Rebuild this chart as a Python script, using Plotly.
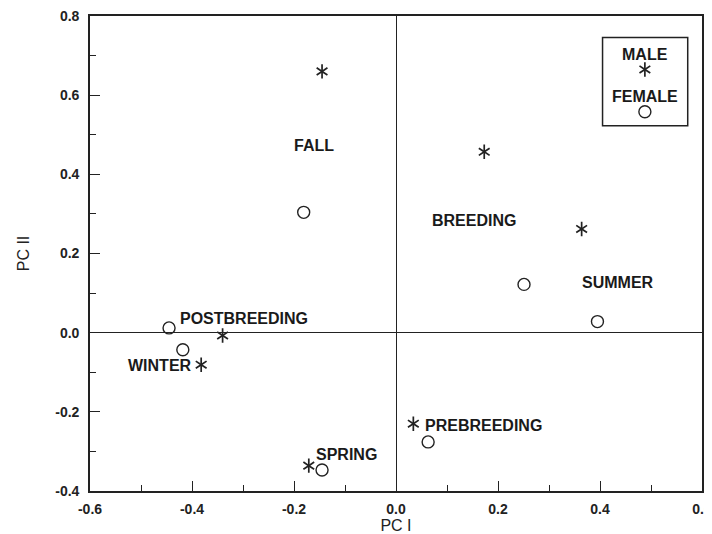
import plotly.graph_objects as go

# Male (asterisk) PC scores by season
male_season = ["FALL", "BREEDING", "SUMMER", "POSTBREEDING", "WINTER", "SPRING", "PREBREEDING"]
male_pc1 = [-0.145, 0.173, 0.364, -0.340, -0.382, -0.171, 0.034]
male_pc2 = [0.660, 0.457, 0.262, -0.007, -0.081, -0.336, -0.230]

# Female (open circle) PC scores by season
female_season = ["FALL", "BREEDING", "SUMMER", "POSTBREEDING", "WINTER", "SPRING", "PREBREEDING"]
female_pc1 = [-0.181, 0.251, 0.395, -0.445, -0.418, -0.145, 0.063]
female_pc2 = [0.304, 0.122, 0.028, 0.012, -0.043, -0.347, -0.276]

# Season labels placed in the plot
label_text = ["FALL", "BREEDING", "SUMMER", "POSTBREEDING", "WINTER", "SPRING", "PREBREEDING"]
label_x = [-0.161, 0.153, 0.436, -0.428, -0.397, -0.160, 0.053]
label_y = [0.472, 0.283, 0.126, 0.035, -0.083, -0.309, -0.235]
label_anchor = ["center", "center", "center", "left", "right", "left", "left"]

# Legend key
legend_x = [0.488]
legend_male_y = [0.665]
legend_female_y = [0.558]

x_ticks = [-0.6, -0.4, -0.2, 0.0, 0.2, 0.4, 0.6]
x_ticktext = ["-0.6", "-0.4", "-0.2", "0.0", "0.2", "0.4", "0.6"]
y_ticks = [-0.4, -0.2, 0.0, 0.2, 0.4, 0.6, 0.8]
y_ticktext = ["-0.4", "-0.2", "0.0", "0.2", "0.4", "0.6", "0.8"]

INK = "#222222"
FONT = "Liberation Sans, Arial, Helvetica, sans-serif"
LBL = dict(family=FONT, size=16, color="#1a1a1a", weight="bold")

fig = go.Figure()
# six-armed asterisk drawn as two overlaid three-armed marks
for sym in ["y-up-open", "y-down-open"]:
    fig.add_trace(go.Scatter(
        x=male_pc1 + legend_x, y=male_pc2 + legend_male_y, mode="markers", name="MALE",
        marker=dict(symbol=sym, size=9, line=dict(color=INK, width=1.7), color=INK),
        hoverinfo="x+y"))
fig.add_trace(go.Scatter(
    x=female_pc1 + legend_x, y=female_pc2 + legend_female_y, mode="markers", name="FEMALE",
    marker=dict(symbol="circle-open", size=12, line=dict(color=INK, width=1.4), color=INK),
    hoverinfo="x+y"))

for t, x, y, a in zip(label_text, label_x, label_y, label_anchor):
    fig.add_annotation(x=x, y=y, text=t, showarrow=False, xanchor=a, yanchor="middle", font=LBL)

fig.add_annotation(x=legend_x[0], y=0.704, text="MALE", showarrow=False, font=LBL)
fig.add_annotation(x=legend_x[0], y=0.596, text="FEMALE", showarrow=False, font=LBL)
fig.add_shape(type="rect", x0=0.405, x1=0.572, y0=0.523, y1=0.746,
              line=dict(color=INK, width=1.5))

axis_common = dict(
    showgrid=False, showline=True, linecolor=INK, linewidth=1.6, mirror=True,
    zeroline=True, zerolinecolor=INK, zerolinewidth=1.4,
    ticks="inside", ticklen=10, tickwidth=1.4, tickcolor=INK,
    minor=dict(ticks="inside", ticklen=6, tickwidth=1.2, tickcolor=INK, dtick=0.1, showgrid=False),
    tickfont=dict(family=FONT, size=14, color=INK, weight="bold"),
    ticklabeloverflow="allow",
    automargin=False,
)

# the page body adds an 8px offset, so the figure is sized to fit the 712x534 window
fig.update_layout(
    width=704, height=526,
    margin=dict(l=82, r=10, t=8, b=43),
    paper_bgcolor="white", plot_bgcolor="white",
    showlegend=False,
    xaxis=dict(range=[-0.6, 0.6], tickvals=x_ticks, ticktext=x_ticktext, ticklabelstandoff=4,
               title=dict(text="PC I", font=dict(family=FONT, size=16, color=INK), standoff=6),
               **axis_common),
    yaxis=dict(range=[-0.4, 0.8], tickvals=y_ticks, ticktext=y_ticktext, ticklabelstandoff=6,
               title=dict(text="PC II", font=dict(family=FONT, size=16, color=INK), standoff=22),
               **axis_common),
)

fig.write_html("out.html")
